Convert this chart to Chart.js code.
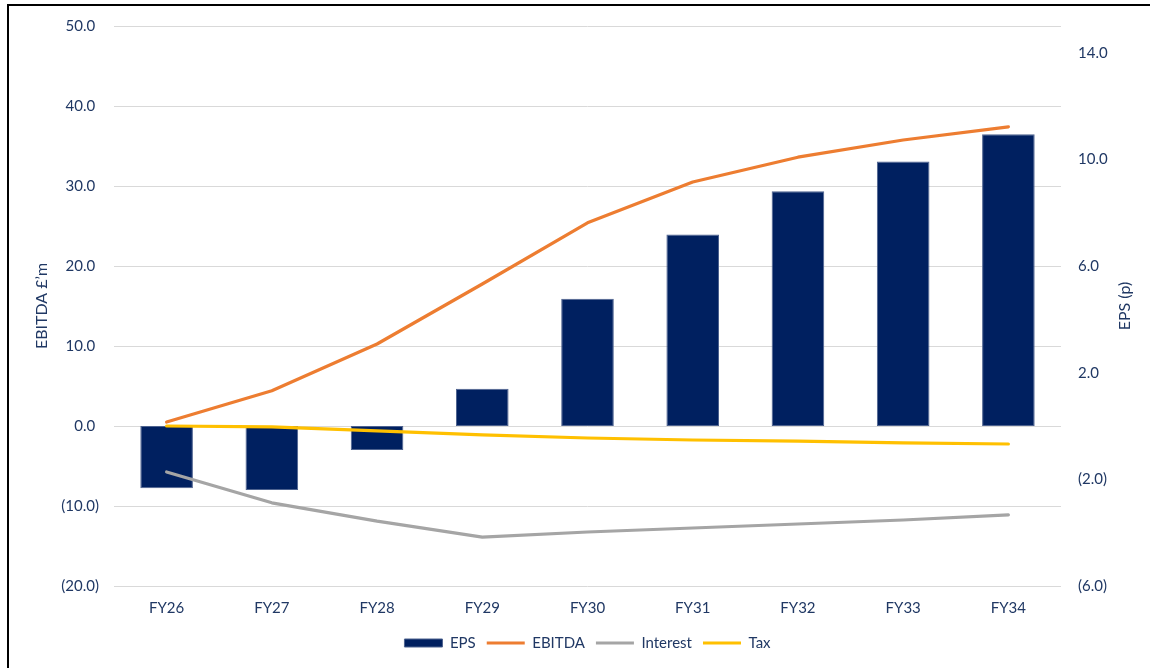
<!DOCTYPE html>
<html>
<head>
<meta charset="utf-8">
<title>EBITDA and EPS forecast</title>
<script src="https://cdn.jsdelivr.net/npm/chart.js@4.4.1/dist/chart.umd.min.js"></script>
<style>
    html, body { margin: 0; padding: 0; background: #fff; }
    .wrap { position: relative; width: 1150px; height: 668px; overflow: hidden; }
    .frame {
        position: absolute; left: 7px; top: 4px; right: -10px; bottom: -10px;
        border-left: 2px solid #000; border-top: 2px solid #000;
    }
    canvas { position: absolute; left: 0; top: 0; }
</style>
</head>
<body>
<div class="wrap">
    <div class="frame"></div>
    <canvas id="forecastChart" width="1150" height="668"></canvas>
</div>
<script>
// ====================================
// DATA
// ====================================

const years = ['FY26', 'FY27', 'FY28', 'FY29', 'FY30', 'FY31', 'FY32', 'FY33', 'FY34'];

// EPS in pence (right axis)
const eps = [-2.33, -2.4, -0.9, 1.4, 4.77, 7.18, 8.8, 9.92, 10.94];

// £'m (left axis)
const ebitda = [0.5, 4.4, 10.25, 17.75, 25.4, 30.5, 33.6, 35.75, 37.4];
const interest = [-5.75, -9.6, -11.9, -13.9, -13.25, -12.75, -12.25, -11.75, -11.1];
const tax = [0.0, -0.1, -0.6, -1.1, -1.5, -1.75, -1.9, -2.1, -2.25];

const epsTicks = [-6, -2, 2, 6, 10, 14];

// ====================================
// STYLE
// ====================================

const textColor = '#203864';
const fontFamily = 'Lato, "Noto Sans", sans-serif';

function fmt(v){
    if(v < 0){
        return '(' + Math.abs(v).toFixed(1) + ')';
    }
    return v.toFixed(1) + ' ';
}

// right axis title reads bottom-to-top
const rightTitle = {
    id: 'rightTitle',
    afterDraw(chart){
        const ctx = chart.ctx;
        const area = chart.chartArea;
        ctx.save();
        ctx.translate(1125, (area.top + area.bottom) / 2);
        ctx.rotate(-Math.PI / 2);
        ctx.font = '16px ' + fontFamily;
        ctx.fillStyle = textColor;
        ctx.textAlign = 'center';
        ctx.textBaseline = 'middle';
        ctx.fillText('EPS (p)', 0, 0);
        ctx.restore();
    }
};

// ====================================
// CHART
// ====================================

const ctxForecast = document.getElementById('forecastChart').getContext('2d');
const forecastChart = new Chart(ctxForecast, {
    type: 'bar',
    data: {
        labels: years,
        datasets: [
            {
                type: 'bar',
                label: 'EPS',
                data: eps,
                yAxisID: 'y1',
                backgroundColor: '#002060',
                borderColor: '#4d628f',
                borderWidth: 1,
                borderSkipped: false,
                barPercentage: 0.5,
                categoryPercentage: 1,
                pointStyle: 'rect',
                order: 1
            },
            {
                type: 'line',
                label: 'EBITDA',
                data: ebitda,
                yAxisID: 'y',
                borderColor: '#ED7D31',
                backgroundColor: '#ED7D31',
                borderWidth: 3.2,
                borderCapStyle: 'round',
                borderJoinStyle: 'round',
                pointRadius: 0,
                pointStyle: 'line',
                tension: 0,
                order: 0
            },
            {
                type: 'line',
                label: 'Interest',
                data: interest,
                yAxisID: 'y',
                borderColor: '#A5A5A5',
                backgroundColor: '#A5A5A5',
                borderWidth: 3.2,
                borderCapStyle: 'round',
                borderJoinStyle: 'round',
                pointRadius: 0,
                pointStyle: 'line',
                tension: 0,
                order: 0
            },
            {
                type: 'line',
                label: 'Tax',
                data: tax,
                yAxisID: 'y',
                borderColor: '#FFC000',
                backgroundColor: '#FFC000',
                borderWidth: 3.2,
                borderCapStyle: 'round',
                borderJoinStyle: 'round',
                pointRadius: 0,
                pointStyle: 'line',
                tension: 0,
                order: 0
            }
        ]
    },
    options: {
        responsive: false,
        animation: false,
        layout: {
            padding: { left: 25, right: 0, top: 25, bottom: 7.5 }
        },
        plugins: {
            tooltip: { enabled: false },
            legend: {
                position: 'bottom',
                labels: {
                    color: textColor,
                    font: { family: fontFamily, size: 15 },
                    usePointStyle: true,
                    pointStyleWidth: 38,
                    boxHeight: 8,
                    padding: 11,
                    sort: (a, b) => a.datasetIndex - b.datasetIndex
                }
            }
        },
        scales: {
            x: {
                grid: { display: false, drawTicks: false },
                border: { display: false },
                ticks: {
                    color: textColor,
                    font: { family: fontFamily, size: 15 },
                    padding: 13
                },
                afterFit(scale){ scale.height = 38.5; }
            },
            y: {
                position: 'left',
                min: -20,
                max: 50,
                grid: { color: '#D9D9D9', lineWidth: 1, drawTicks: false },
                border: { display: false },
                ticks: {
                    stepSize: 10,
                    color: textColor,
                    font: { family: fontFamily, size: 15 },
                    padding: 15,
                    callback: v => fmt(v)
                },
                title: {
                    display: true,
                    text: 'EBITDA £\u2019m',
                    color: textColor,
                    font: { family: fontFamily, size: 16 },
                    padding: { top: 7, bottom: 0 }
                },
                afterFit(scale){ scale.width = 89; }
            },
            y1: {
                position: 'right',
                min: -6,
                max: 15,
                grid: { display: false, drawTicks: false },
                border: { display: false },
                afterBuildTicks(scale){
                    scale.ticks = epsTicks.map(v => ({ value: v }));
                },
                ticks: {
                    color: textColor,
                    font: { family: fontFamily, size: 15 },
                    padding: 17,
                    callback: v => fmt(v)
                },
                afterFit(scale){ scale.width = 89; }
            }
        }
    },
    plugins: [rightTitle]
});
</script>
</body>
</html>
